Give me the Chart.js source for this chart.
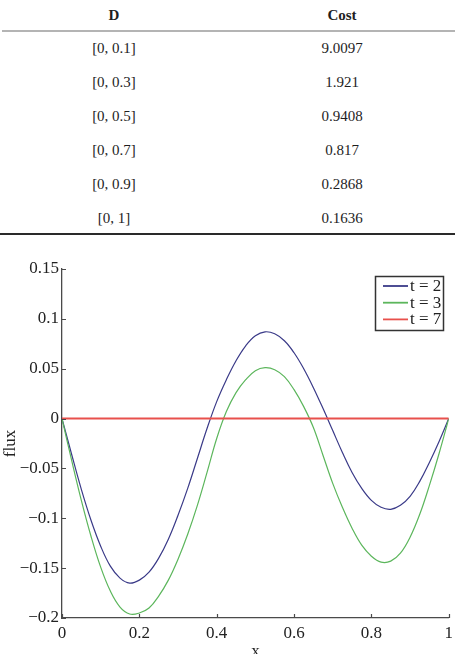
<!DOCTYPE html>
<html>
<head>
<meta charset="utf-8">
<script src="https://cdn.jsdelivr.net/npm/chart.js@4/dist/chart.umd.min.js"></script>
<style>
  html, body { margin: 0; padding: 0; background: #fff; overflow: hidden; }
  body { width: 458px; height: 654px; position: relative; font-family: "Liberation Serif", "Times New Roman", serif; color: #1e1e1e; }
  .cell { position: absolute; width: 228px; text-align: center; font-size: 15px; }
  .head { font-weight: bold; height: 30px; line-height: 30px; top: 0; }
  .rule { position: absolute; }
  #wrap { position: absolute; left: 0; top: 240px; width: 458px; height: 440px; }
</style>
</head>
<body>
<div id="table"></div>
<div id="wrap"><canvas id="flux-chart" width="458" height="440"></canvas></div>
<script>
// table
const domains = ["[0, 0.1]", "[0, 0.3]", "[0, 0.5]", "[0, 0.7]", "[0, 0.9]", "[0, 1]"];
const costs = ["9.0097", "1.921", "0.9408", "0.817", "0.2868", "0.1636"];

// chart
const xValues = [0, 0.025, 0.05, 0.075, 0.1, 0.125, 0.15, 0.175, 0.2, 0.225, 0.25, 0.275, 0.3, 0.325, 0.35, 0.375, 0.4,
  0.425, 0.45, 0.475, 0.5, 0.525, 0.55, 0.575, 0.6, 0.625, 0.65, 0.675, 0.7, 0.725, 0.75, 0.775, 0.8, 0.825, 0.85,
  0.875, 0.9, 0.925, 0.95, 0.975, 1];
const fluxT2 = [0, -0.036, -0.071, -0.102, -0.128, -0.148, -0.160, -0.165, -0.162, -0.154, -0.140, -0.121, -0.097,
  -0.070, -0.040, -0.010, 0.017, 0.039, 0.058, 0.073, 0.083, 0.087, 0.085, 0.078, 0.066, 0.050, 0.031, 0.010,
  -0.012, -0.034, -0.054, -0.070, -0.082, -0.089, -0.091, -0.087, -0.078, -0.063, -0.044, -0.023, 0];
const fluxT3 = [0, -0.042, -0.082, -0.118, -0.149, -0.173, -0.189, -0.196, -0.195, -0.190, -0.178, -0.162, -0.141,
  -0.116, -0.087, -0.054, -0.020, 0.007, 0.026, 0.039, 0.048, 0.051, 0.049, 0.042, 0.029, 0.012, -0.009, -0.037,
  -0.065, -0.089, -0.110, -0.127, -0.138, -0.144, -0.143, -0.135, -0.119, -0.096, -0.067, -0.035, 0];
const fluxT7 = [0, 0, 0, 0, 0, 0, 0, 0, 0, 0, 0, 0, 0, 0, 0, 0, 0, 0, 0, 0, 0, 0, 0, 0, 0, 0, 0, 0, 0, 0, 0, 0, 0,
  0, 0, 0, 0, 0, 0, 0, 0];
const seriesLabels = ["t = 2", "t = 3", "t = 7"];

const serif = '"Liberation Serif", "Times New Roman", serif';

(function () {
  const table = document.getElementById("table");
  let html = '<div class="cell head" style="left:0">D</div>' +
    '<div class="cell head" style="left:228px">Cost</div>' +
    '<div class="rule" style="left:2px;top:30px;width:453px;height:2px;background:#b4b4b4"></div>';
  domains.forEach((d, i) => {
    const top = 31 + 34 * i;
    html += '<div class="cell" style="left:0;top:' + top + 'px;height:34px;line-height:34px">' + d + '</div>';
    html += '<div class="cell" style="left:228px;top:' + top + 'px;height:34px;line-height:34px">' + costs[i] + '</div>';
  });
  html += '<div class="rule" style="left:0;top:233px;width:455px;height:2px;background:#2a2a2a"></div>';
  table.innerHTML = html;
})();

function points(ys) {
  return xValues.map((x, i) => ({ x: x, y: ys[i] }));
}

function fmt(v) {
  const s = String(parseFloat(Math.abs(v).toFixed(3)));
  return v < -1e-9 ? "\u2212" + s : s;
}

// matlab style ticks pointing into the plot, and the boxed legend
const matlabBits = {
  id: "matlabBits",
  afterDraw(chart) {
    const ctx = chart.ctx;
    const xs = chart.scales.x;
    const ys = chart.scales.y;
    const area = chart.chartArea;
    ctx.save();
    ctx.strokeStyle = "#4a4a4a";
    ctx.lineWidth = 1.2;
    ctx.beginPath();
    xs.ticks.forEach((t) => {
      const px = Math.round(xs.getPixelForValue(t.value)) + 0.5;
      ctx.moveTo(px, area.bottom);
      ctx.lineTo(px, area.bottom - 4);
    });
    ys.ticks.forEach((t) => {
      const py = Math.round(ys.getPixelForValue(t.value)) + 0.5;
      ctx.moveTo(area.left, py);
      ctx.lineTo(area.left + 4, py);
    });
    ctx.stroke();

    // legend
    const bx = 375.5, by = 36.5, bw = 68, bh = 54;
    ctx.fillStyle = "#fff";
    ctx.fillRect(bx, by, bw, bh);
    ctx.strokeStyle = "#333";
    ctx.lineWidth = 1.5;
    ctx.strokeRect(bx, by, bw, bh);
    ctx.font = "17px " + serif;
    ctx.textBaseline = "middle";
    ctx.textAlign = "left";
    chart.data.datasets.forEach((ds, i) => {
      const y = by + 9.5 + 16.7 * i;
      ctx.strokeStyle = ds.borderColor;
      ctx.lineWidth = 1.8;
      ctx.beginPath();
      ctx.moveTo(383, y);
      ctx.lineTo(408, y);
      ctx.stroke();
      ctx.fillStyle = "#222";
      ctx.fillText(ds.label, 410, y + 0.5);
    });
    ctx.restore();
  },
};

new Chart(document.getElementById("flux-chart"), {
  type: "line",
  data: {
    datasets: [
      {
        label: seriesLabels[0],
        data: points(fluxT2),
        borderColor: "#3a3a88",
        borderWidth: 1.2,
        order: 3,
      },
      {
        label: seriesLabels[1],
        data: points(fluxT3),
        borderColor: "#5cb65c",
        borderWidth: 1.2,
        order: 2,
      },
      {
        label: seriesLabels[2],
        data: points(fluxT7),
        borderColor: "#e8504c",
        borderWidth: 2,
        order: 1,
      },
    ],
  },
  options: {
    responsive: false,
    animation: false,
    elements: {
      point: { radius: 0 },
      line: { tension: 0.4, fill: false },
    },
    layout: { padding: { top: 29, right: 9, left: 0, bottom: 0 } },
    plugins: {
      legend: { display: false },
      tooltip: { enabled: false },
      title: { display: false },
    },
    scales: {
      x: {
        type: "linear",
        min: 0,
        max: 1,
        grid: { display: false, drawTicks: false },
        border: { display: true, color: "#4a4a4a", width: 1.3 },
        ticks: {
          stepSize: 0.2,
          autoSkip: false,
          maxRotation: 0,
          padding: 5,
          color: "#222",
          font: { family: serif, size: 17 },
          callback: (v) => fmt(v),
        },
        title: {
          display: true,
          text: "x",
          color: "#222",
          font: { family: serif, size: 17 },
          padding: { top: 0, bottom: 18 },
        },
        afterFit: (scale) => { scale.height = 62; },
      },
      y: {
        min: -0.2,
        max: 0.15,
        grid: { display: false, drawTicks: false },
        border: { display: true, color: "#4a4a4a", width: 1.3 },
        ticks: {
          stepSize: 0.05,
          autoSkip: false,
          padding: 3,
          color: "#222",
          font: { family: serif, size: 17 },
          callback: (v) => fmt(v),
        },
        title: {
          display: true,
          text: "flux",
          color: "#222",
          font: { family: serif, size: 17 },
          padding: { top: 0, bottom: 0 },
        },
        afterFit: (scale) => { scale.width = 62; },
      },
    },
  },
  plugins: [matlabBits],
});
</script>
</body>
</html>
